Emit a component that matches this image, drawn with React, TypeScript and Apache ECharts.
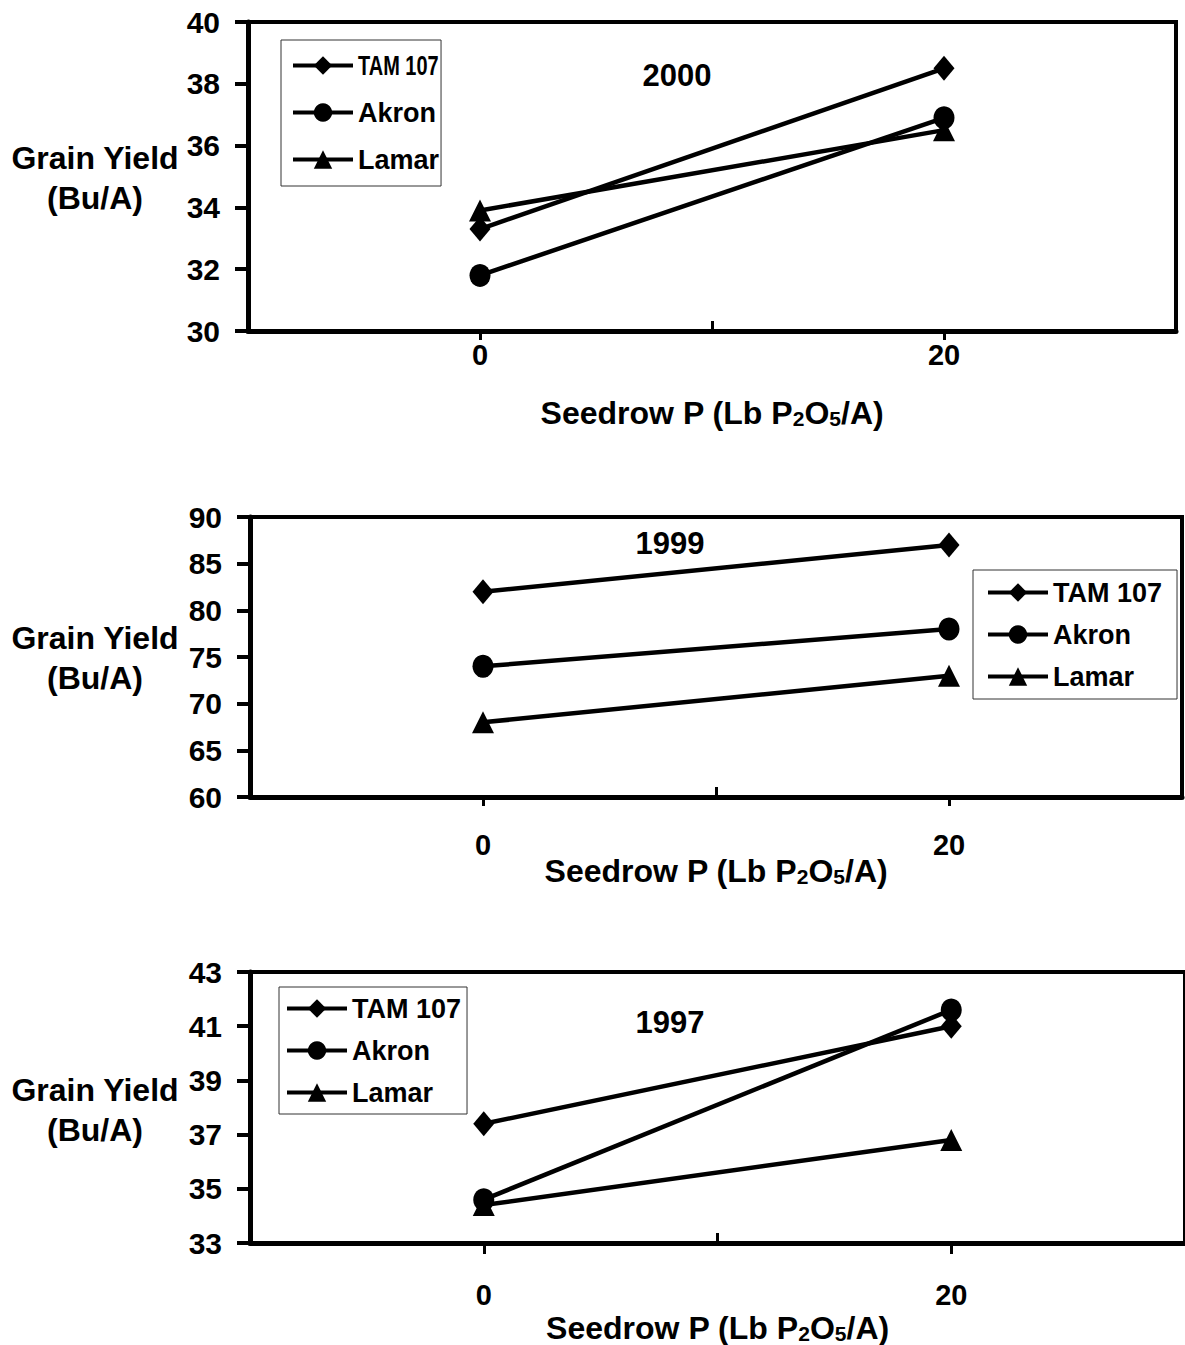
import React, { useEffect, useRef } from 'react';
import * as echarts from 'echarts';

// ---------- data ----------
const categories = ['0', '20'];
const varieties = ['TAM 107', 'Akron', 'Lamar'];
const symbols = ['diamond', 'circle', 'triangle'];
const years = ['2000', '1999', '1997'];

const tam2000 = [33.3, 38.5];
const akron2000 = [31.8, 36.9];
const lamar2000 = [33.9, 36.5];

const tam1999 = [82, 87];
const akron1999 = [74, 78];
const lamar1999 = [68, 73];

const tam1997 = [37.4, 41.0];
const akron1997 = [34.6, 41.6];
const lamar1997 = [34.4, 36.8];

const yMins = [30, 60, 33];
const yMaxs = [40, 90, 43];
const ySteps = [2, 5, 2];

const yTitle = 'Grain Yield\n(Bu/A)';
const xTitle = 'Seedrow P (Lb P{sub|2}O{sub|5}/A)';

// ---------- layout / style ----------
const FONT = "'Liberation Sans', Arial, Helvetica, sans-serif";
const symbolSizes = [[21, 25], [21, 23], [22, 22]];

const panelLayouts = [
  {
    grid: { left: 248, top: 22, width: 928, height: 309 },
    legend: { left: 281, top: 40, gap: 20, padding: [12, 2, 13, 10], squeezeFirst: true, firstX: 358, firstY: 65.5, firstScale: 0.74 },
    year: { x: 677, y: 75 },
    labelMargin: 9,
    nameGap: 66,
    yTitleY: 178,
  },
  {
    grid: { left: 250, top: 517, width: 932, height: 280 },
    legend: { left: 973, top: 570, gap: 15, padding: [9, 15, 9, 13], squeezeFirst: false },
    year: { x: 670, y: 543 },
    labelMargin: 33,
    nameGap: 58,
    yTitleY: 658,
  },
  {
    grid: { left: 250, top: 972, width: 944, height: 273 },
    legend: { left: 279, top: 987, gap: 15, padding: [8, 6, 8, 6], squeezeFirst: false },
    year: { x: 670, y: 1022 },
    labelMargin: 37,
    nameGap: 69,
    yTitleY: 1110,
  },
];

const panelData = [
  [tam2000, akron2000, lamar2000],
  [tam1999, akron1999, lamar1999],
  [tam1997, akron1997, lamar1997],
];

function buildOption() {
  const grid: any[] = [];
  const xAxis: any[] = [];
  const yAxis: any[] = [];
  const series: any[] = [];
  const legend: any[] = [];
  const graphic: any[] = [];

  panelLayouts.forEach((p, i) => {
    grid.push({
      ...p.grid,
      show: true,
      borderColor: '#000',
      borderWidth: 4,
      backgroundColor: 'transparent',
      containLabel: false,
    });
    // main x axis (boundary ticks pointing inward)
    xAxis.push({
      type: 'category',
      gridIndex: i,
      data: categories,
      boundaryGap: true,
      position: 'bottom',
      axisLine: { show: true, lineStyle: { color: '#000', width: 5 } },
      axisTick: { show: true, inside: true, length: 10, lineStyle: { color: '#000', width: 3 } },
      axisLabel: { show: true, margin: p.labelMargin, color: '#000', fontSize: 29, fontWeight: 'bold', fontFamily: FONT },
      name: xTitle,
      nameLocation: 'middle',
      nameGap: p.nameGap,
      nameMoveOverlap: false,
      nameTextStyle: {
        color: '#000',
        fontSize: 32,
        fontWeight: 'bold',
        fontFamily: FONT,
        rich: {
          sub: { fontSize: 21, fontWeight: 'bold', fontFamily: FONT, color: '#000', verticalAlign: 'bottom', lineHeight: 22, padding: [16, 0, 0, 0] },
        },
      },
      splitLine: { show: false },
    });
    // secondary axis: short outward ticks at category centres
    xAxis.push({
      type: 'category',
      gridIndex: i,
      data: categories,
      boundaryGap: true,
      position: 'top',
      offset: -p.grid.height,
      axisLine: { show: false },
      axisTick: { show: true, inside: true, alignWithLabel: true, length: 9, lineStyle: { color: '#000', width: 3 } },
      axisLabel: { show: false },
      splitLine: { show: false },
    });
    yAxis.push({
      type: 'value',
      gridIndex: i,
      min: yMins[i],
      max: yMaxs[i],
      interval: ySteps[i],
      axisLine: { show: true, lineStyle: { color: '#000', width: 5 } },
      axisTick: { show: true, length: 13, lineStyle: { color: '#000', width: 4 } },
      axisLabel: { margin: 28, color: '#000', fontSize: 30, fontWeight: 'bold', fontFamily: FONT },
      splitLine: { show: false },
    });
    panelData[i].forEach((vals, k) => {
      series.push({
        type: 'line',
        name: varieties[k],
        xAxisIndex: i * 2,
        yAxisIndex: i,
        data: vals,
        symbol: symbols[k],
        symbolSize: symbolSizes[k],
        showAllSymbol: true,
        lineStyle: { color: '#000', width: 4.5 },
        itemStyle: { color: '#000' },
        emphasis: { disabled: true },
        z: 3,
      });
    });
    const squeeze = p.legend.squeezeFirst;
    legend.push({
      show: true,
      orient: 'vertical',
      left: p.legend.left,
      top: p.legend.top,
      itemWidth: 60,
      itemHeight: 23,
      itemGap: p.legend.gap,
      padding: p.legend.padding,
      borderColor: '#333',
      borderWidth: 1,
      backgroundColor: '#fff',
      selectedMode: false,
      lineStyle: { width: 4, color: '#000' },
      data: varieties,
      formatter: (name: string) => (squeeze && name === varieties[0] ? ' ' : name),
      textStyle: { color: '#000', fontSize: 27, fontWeight: 'bold', fontFamily: FONT },
    });
    if (squeeze) {
      // the first legend entry is horizontally compressed in the original
      graphic.push({
        type: 'text',
        x: p.legend.firstX,
        y: p.legend.firstY,
        scaleX: p.legend.firstScale,
        z: 100,
        style: {
          text: varieties[0],
          fill: '#000',
          fontSize: 27,
          fontWeight: 'bold',
          fontFamily: FONT,
          align: 'left',
          verticalAlign: 'middle',
        },
      });
    }
    graphic.push({
      type: 'text',
      x: 95,
      y: p.yTitleY,
      style: {
        text: yTitle,
        fill: '#000',
        fontSize: 32,
        fontWeight: 'bold',
        fontFamily: FONT,
        align: 'center',
        verticalAlign: 'middle',
        lineHeight: 40,
      },
    });
    graphic.push({
      type: 'text',
      x: p.year.x,
      y: p.year.y,
      style: {
        text: years[i],
        fill: '#000',
        fontSize: 31,
        fontWeight: 'bold',
        fontFamily: FONT,
        align: 'center',
        verticalAlign: 'middle',
      },
    });
  });

  return {
    animation: false,
    backgroundColor: '#fff',
    textStyle: { fontFamily: FONT },
    grid,
    xAxis,
    yAxis,
    series,
    legend,
    graphic,
  };
}

export default function App() {
  const ref = useRef<HTMLDivElement>(null);
  useEffect(() => {
    if (!ref.current) return;
    const chart = echarts.init(ref.current, null, { renderer: 'svg' });
    chart.setOption(buildOption() as any);
    return () => chart.dispose();
  }, []);
  return (
    <div
      ref={ref}
      style={{ position: 'absolute', left: 0, top: 0, width: 1185, height: 1345, overflow: 'hidden', background: '#fff' }}
    />
  );
}
